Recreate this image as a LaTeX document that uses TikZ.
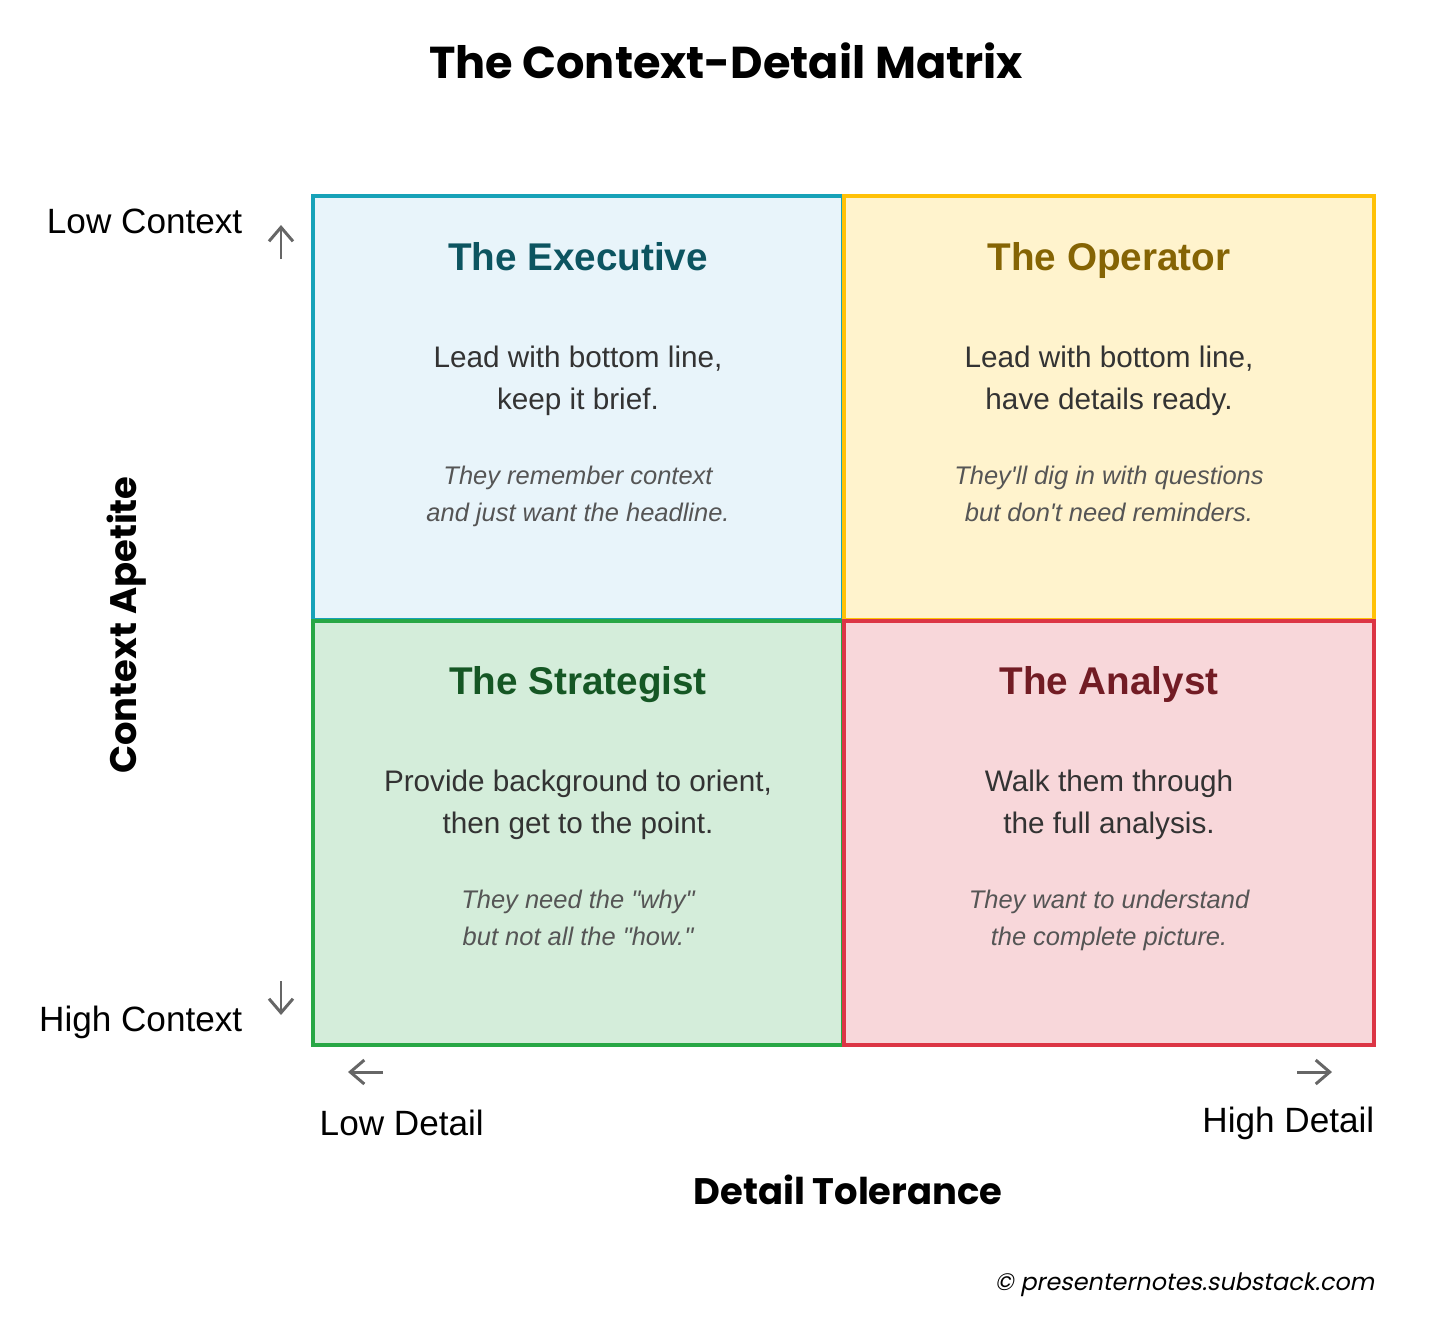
\documentclass[tikz,border=0pt]{standalone}
\usepackage{fontspec}
\setmainfont{Liberation Sans}
\newfontfamily\popfont{Poppins}
\newfontfamily\popitfont{Poppins}[FakeSlant=0.2]
\usetikzlibrary{positioning,arrows.meta}
\definecolor{execline}{HTML}{17A2B8}
\definecolor{execfill}{HTML}{E8F4FA}
\definecolor{exectext}{HTML}{0C5460}
\definecolor{operline}{HTML}{FFC107}
\definecolor{operfill}{HTML}{FFF3CD}
\definecolor{opertext}{HTML}{856404}
\definecolor{stratline}{HTML}{28A745}
\definecolor{stratfill}{HTML}{D4EDDA}
\definecolor{strattext}{HTML}{155724}
\definecolor{analline}{HTML}{DC3545}
\definecolor{analfill}{HTML}{F8D7DA}
\definecolor{analtext}{HTML}{721C24}
\definecolor{bodytext}{HTML}{333333}
\definecolor{notetext}{HTML}{555555}
\definecolor{arrowgray}{HTML}{666666}

\begin{document}
\begin{tikzpicture}[
        quadrant/.style={rectangle, draw, line width=0.04cm,
        minimum width=5.3cm, minimum height=4.24cm, inner sep=0pt},
        quadtitle/.style={anchor=base, font=\fontsize{11}{13}\selectfont\bfseries},
        quadbody/.style={align=center, text=bodytext,
        font=\fontsize{8.45}{12}\selectfont},
        quadnote/.style={align=center, text=notetext,
        font=\fontsize{7.25}{10.5}\selectfont\itshape},
        axislabel/.style={inner sep=0pt, font=\fontsize{10}{12}\selectfont, text=black},
        axistitle/.style={font=\popfont\fontsize{10.5}{12}\selectfont\bfseries},
        axisarrow/.style={-{Straight Barb[length=1.4mm, width=2.4mm]},
        arrowgray, line width=0.85pt},
      ]
      \useasboundingbox (0,0) rectangle (14.56,-13.21);

      % Title
      \node[font=\popfont\fontsize{12.7}{15}\selectfont\bfseries] (title)
      at (7.26,-0.61) {The Context-Detail Matrix};

      % Quadrants
      \node[quadrant, draw=execline, fill=execfill] (exec) at (5.78,-4.08) {};
      \node[quadrant, draw=operline, fill=operfill] (oper) at (11.09,-4.08) {};
      \node[quadrant, draw=stratline, fill=stratfill] (strat) at (5.78,-8.325) {};
      \node[quadrant, draw=analline, fill=analfill] (anal) at (11.09,-8.325) {};

      % The Executive
      \node[quadtitle, text=exectext] (exect) at (5.78,-2.70) {The Executive};
      \node[quadbody] (execb) at (5.78,-3.81) {Lead with bottom line,\\keep it brief.};
      \node[quadnote] (execn) at (5.78,-4.96) {They remember context\\and just want the headline.};

      % The Operator
      \node[quadtitle, text=opertext] (opert) at (11.09,-2.70) {The Operator};
      \node[quadbody] (operb) at (11.09,-3.81) {Lead with bottom line,\\have details ready.};
      \node[quadnote] (opern) at (11.09,-4.94)
      {They\textquotesingle ll dig in with questions\\but don\textquotesingle t need reminders.};

      % The Strategist
      \node[quadtitle, text=strattext] (stratt) at (5.78,-6.94) {The Strategist};
      \node[quadbody] (stratb) at (5.78,-8.05) {Provide background to orient,\\then get to the point.};
      \node[quadnote] (stratn) at (5.78,-9.18)
      {They need the \textquotedbl why\textquotedbl\\but not all the \textquotedbl how.\textquotedbl};

      % The Analyst
      \node[quadtitle, text=analtext] (analt) at (11.09,-6.94) {The Analyst};
      \node[quadbody] (analb) at (11.09,-8.05) {Walk them through\\the full analysis.};
      \node[quadnote] (analn) at (11.09,-9.20) {They want to understand\\the complete picture.};

      % Vertical axis
      \node[axislabel, anchor=east] (lowctx) at (2.43,-2.21) {Low Context};
      \node[axislabel, anchor=east] (highctx) at (2.43,-10.22) {High Context};
      \node[axistitle, rotate=90] (ctxaxis) at (1.27,-6.25) {Context Apetite};
      \coordinate (upfrom) at (2.81,-2.59);
      \coordinate (upto) at (2.81,-2.25);
      \coordinate (downfrom) at (2.81,-9.81);
      \coordinate (downto) at (2.81,-10.15);
      \draw[axisarrow] (upfrom) -- (upto);
      \draw[axisarrow] (downfrom) -- (downto);

      % Horizontal axis
      \node[axislabel, anchor=west] (lowdet) at (3.19,-11.23) {Low Detail};
      \node[axislabel, anchor=east] (highdet) at (13.75,-11.23) {High Detail};
      \node[axistitle] (detaxis) at (8.48,-11.9) {Detail Tolerance};
      \coordinate (leftfrom) at (3.83,-10.72);
      \coordinate (leftto) at (3.48,-10.72);
      \coordinate (rightfrom) at (12.97,-10.72);
      \coordinate (rightto) at (13.32,-10.72);
      \draw[axisarrow] (leftfrom) -- (leftto);
      \draw[axisarrow] (rightfrom) -- (rightto);

      % Credit
      \node[anchor=east, inner sep=0pt, font=\popitfont\fontsize{6.8}{8}\selectfont] (credit)
      at (13.75,-12.85) {\textcopyright\ presenternotes.substack.com};
    \end{tikzpicture}
\end{document}
